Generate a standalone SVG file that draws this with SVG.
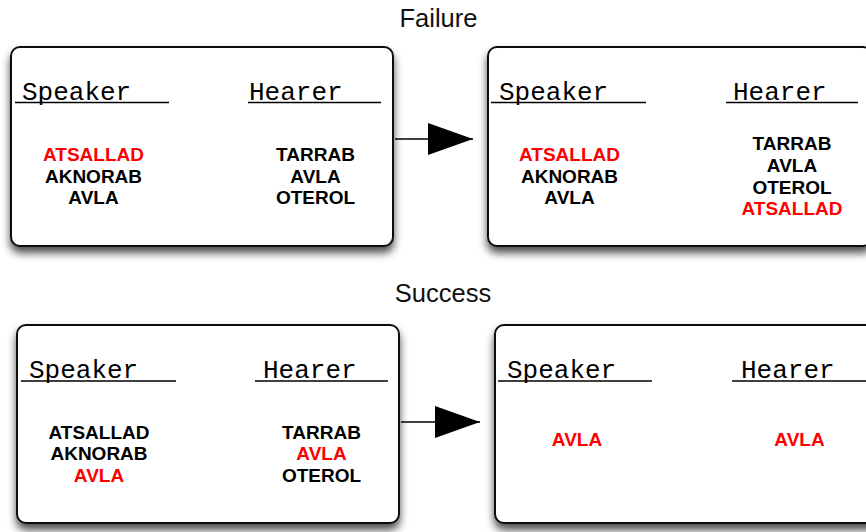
<svg xmlns="http://www.w3.org/2000/svg" width="866" height="532" viewBox="0 0 866 532">
<defs>
<filter id="sh" x="-10%" y="-10%" width="120%" height="130%">
<feDropShadow dx="0" dy="6" stdDeviation="4.5" flood-color="#000" flood-opacity="0.7"/>
</filter>
<marker id="arr" markerUnits="userSpaceOnUse" markerWidth="46" markerHeight="34" refX="45" refY="16" orient="auto">
<path d="M0,0 L45,16 L0,32 Z" fill="#000"/>
</marker>
<style>
.box{fill:#fff;stroke:#111;stroke-width:2;filter:url(#sh)}
.title{font-family:"Liberation Sans",Arial,sans-serif;font-size:25.5px;fill:#111;text-anchor:middle}
.hd{font-family:"Liberation Mono","Courier New",monospace;font-size:26px;fill:#000}
.ul{stroke:#000;stroke-width:1.5}
.w{font-family:"Liberation Sans",Arial,sans-serif;font-weight:bold;font-size:19px;fill:#000;text-anchor:middle}
.r{fill:#ff0000}
.conn{stroke:#000;stroke-width:1.5;fill:none}
</style>
</defs>
<rect width="866" height="532" fill="#fff"/>
<text class="title" x="438.5" y="26.5">Failure</text>
<text class="title" x="443" y="301.5">Success</text>

<g id="failure-before">
<rect class="box" x="11" y="47" width="382" height="199" rx="9"/>
<text class="hd" x="22" y="100">Speaker</text>
<line class="ul" x1="15" y1="102.5" x2="169" y2="102.5"/>
<text class="hd" x="249" y="100">Hearer</text>
<line class="ul" x1="248" y1="102.5" x2="381" y2="102.5"/>
<text class="w r" x="93.5" y="160.5">ATSALLAD</text>
<text class="w" x="93.5" y="182.5">AKNORAB</text>
<text class="w" x="93.5" y="204">AVLA</text>
<text class="w" x="315.5" y="160.5">TARRAB</text>
<text class="w" x="315.5" y="182.5">AVLA</text>
<text class="w" x="315.5" y="204">OTEROL</text>
</g>

<g id="failure-after">
<rect class="box" x="488" y="47" width="384" height="199" rx="9"/>
<text class="hd" x="499" y="100">Speaker</text>
<line class="ul" x1="491" y1="102.5" x2="646" y2="102.5"/>
<text class="hd" x="733" y="100">Hearer</text>
<line class="ul" x1="726" y1="102.5" x2="858" y2="102.5"/>
<text class="w r" x="569.5" y="160.5">ATSALLAD</text>
<text class="w" x="569.5" y="182.5">AKNORAB</text>
<text class="w" x="569.5" y="204">AVLA</text>
<text class="w" x="792" y="150">TARRAB</text>
<text class="w" x="792" y="172">AVLA</text>
<text class="w" x="792" y="193.5">OTEROL</text>
<text class="w r" x="792" y="215">ATSALLAD</text>
</g>

<g id="success-before">
<rect class="box" x="17" y="325" width="382" height="198" rx="9"/>
<text class="hd" x="29" y="378">Speaker</text>
<line class="ul" x1="21" y1="381" x2="176" y2="381"/>
<text class="hd" x="263" y="378">Hearer</text>
<line class="ul" x1="255" y1="381" x2="388" y2="381"/>
<text class="w" x="99" y="438.5">ATSALLAD</text>
<text class="w" x="99" y="460">AKNORAB</text>
<text class="w r" x="99" y="481.5">AVLA</text>
<text class="w" x="321.5" y="438.5">TARRAB</text>
<text class="w r" x="321.5" y="460">AVLA</text>
<text class="w" x="321.5" y="481.5">OTEROL</text>
</g>

<g id="success-after">
<rect class="box" x="495" y="325" width="384" height="198" rx="9"/>
<text class="hd" x="507" y="378">Speaker</text>
<line class="ul" x1="498" y1="381" x2="652" y2="381"/>
<text class="hd" x="741" y="378">Hearer</text>
<line class="ul" x1="732" y1="381" x2="870" y2="381"/>
<text class="w r" x="577" y="446">AVLA</text>
<text class="w r" x="799.5" y="446">AVLA</text>
</g>

<g id="connectors">
<line class="conn" x1="395" y1="139" x2="473" y2="139" marker-end="url(#arr)"/>
<line class="conn" x1="401" y1="422" x2="480" y2="422" marker-end="url(#arr)"/>
</g>
</svg>
